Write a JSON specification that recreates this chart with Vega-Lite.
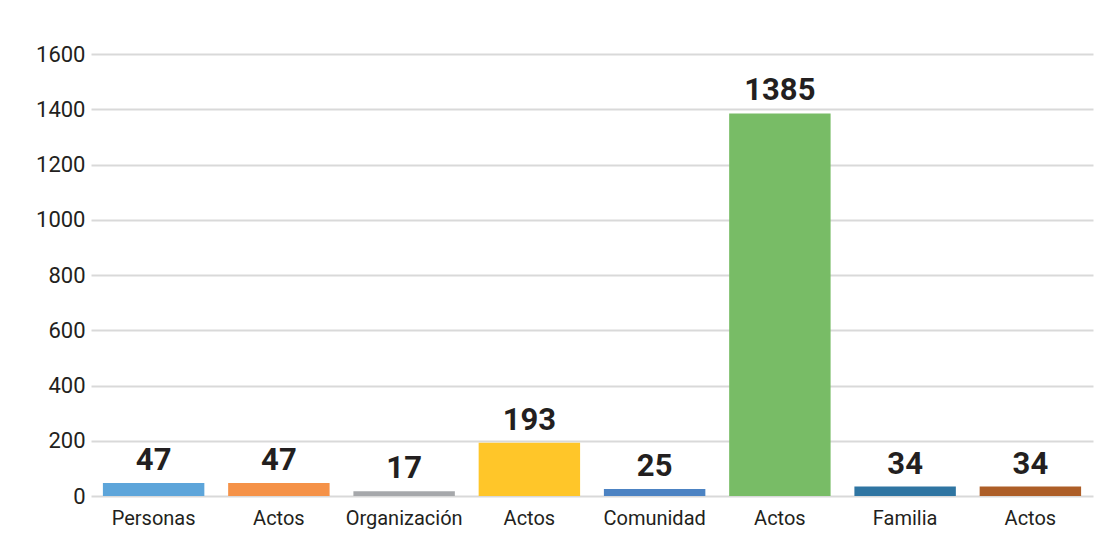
{
  "$schema": "https://vega.github.io/schema/vega-lite/v6.json",
  "autosize": {"type": "none"},
  "width": 1002,
  "height": 442,
  "padding": {"left": 91, "top": 54, "right": 18, "bottom": 62},
  "background": "white",
  "data": {
    "values": [
      {"clave": "Personas", "valor": 47},
      {"clave": "Actos 1", "valor": 47},
      {"clave": "Organización", "valor": 17},
      {"clave": "Actos 2", "valor": 193},
      {"clave": "Comunidad", "valor": 25},
      {"clave": "Actos 3", "valor": 1385},
      {"clave": "Familia", "valor": 34},
      {"clave": "Actos 4", "valor": 34}
    ]
  },
  "encoding": {
    "x": {
      "field": "clave",
      "type": "nominal",
      "sort": null,
      "scale": {"paddingInner": 0.19, "paddingOuter": 0.095},
      "axis": {
        "title": null,
        "labelAngle": 0,
        "labelExpr": "split(datum.label, ' ')[0]",
        "labelFont": "Roboto",
        "labelFontSize": 20,
        "labelColor": "#231F20",
        "labelPadding": 12,
        "ticks": false,
        "domain": false,
        "grid": false
      }
    },
    "y": {
      "field": "valor",
      "type": "quantitative",
      "scale": {"domain": [0, 1600]},
      "axis": {
        "title": null,
        "format": "d",
        "values": [0, 200, 400, 600, 800, 1000, 1200, 1400, 1600],
        "labelFont": "Roboto",
        "labelFontSize": 22,
        "labelColor": "#231F20",
        "labelPadding": 6,
        "ticks": false,
        "domain": false,
        "grid": true,
        "gridColor": "#D9D9D9",
        "gridWidth": 2
      }
    }
  },
  "layer": [
    {
      "mark": {"type": "bar"},
      "encoding": {
        "color": {
          "field": "clave",
          "type": "nominal",
          "scale": {
            "domain": ["Personas", "Actos 1", "Organización", "Actos 2", "Comunidad", "Actos 3", "Familia", "Actos 4"],
            "range": ["#5DA5DA", "#F59248", "#A6A8AB", "#FFC629", "#4C83C3", "#78BC66", "#2F75A2", "#AD5E27"]
          },
          "legend": null
        }
      }
    },
    {
      "mark": {"type": "text", "font": "Roboto", "fontWeight": "bold", "fontSize": 31, "color": "#231F20", "baseline": "alphabetic", "dy": -13},
      "encoding": {"text": {"field": "valor", "type": "quantitative", "format": "d"}}
    }
  ],
  "config": {"view": {"stroke": null}}
}
